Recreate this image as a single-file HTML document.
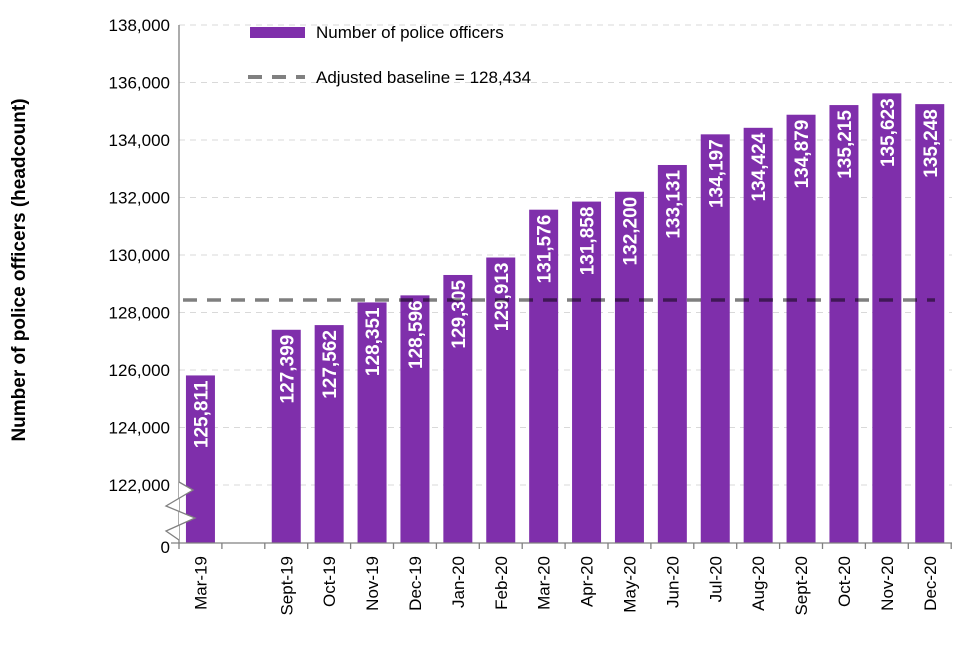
<!DOCTYPE html>
<html><head><meta charset="utf-8"><style>
body{margin:0;background:#fff;}
svg{font-family:"Liberation Sans",Arial,sans-serif;}
</style></head><body>
<svg id="chart" width="960" height="640" viewBox="0 0 960 640" xmlns="http://www.w3.org/2000/svg">
<g id="grid"></g>
<g id="bars"></g>
<g id="axes"></g>
<text transform="translate(25,270) rotate(-90)" text-anchor="middle" font-size="19" font-weight="bold" fill="#000">Number of police officers (headcount)</text>
<g>
<rect x="250" y="27" width="55" height="11" fill="#7f2fab"/>
<text x="316" y="38" font-size="17" fill="#000">Number of police officers</text>
<line x1="248" y1="77" x2="305" y2="77" stroke="#808080" stroke-width="4" stroke-dasharray="14,10"/>
<text x="316" y="83" font-size="17" fill="#000">Adjusted baseline = 128,434</text>
</g>
</svg>
<script>
const categories=["Mar-19","","Sept-19","Oct-19","Nov-19","Dec-19","Jan-20","Feb-20","Mar-20","Apr-20","May-20","Jun-20","Jul-20","Aug-20","Sept-20","Oct-20","Nov-20","Dec-20"];
const officers=[125811,null,127399,127562,128351,128596,129305,129913,131576,131858,132200,133131,134197,134424,134879,135215,135623,135248];
const baseline=128434;
const yTicks=[122000,124000,126000,128000,130000,132000,134000,136000,138000];
const NS="http://www.w3.org/2000/svg";
const x0=179,slot=42.9,yBase=543,yMin=122000,yMinPx=485,k=460/16000;
function y(v){return yMinPx-(v-yMin)*k;}
function xc(i){return x0+slot*(i+0.5);}
function mk(t,a,p){const e=document.createElementNS(NS,t);for(const n in a)e.setAttribute(n,a[n]);p.appendChild(e);return e;}
const grid=document.getElementById('grid'),bars=document.getElementById('bars'),axes=document.getElementById('axes');
yTicks.forEach(v=>{
  const l=mk('line',{x1:x0,x2:952,y1:y(v),y2:y(v),stroke:'#d9d9d9','stroke-dasharray':'6,5'},grid);
  
  
  const t=mk('text',{x:170,y:y(v)+6,'text-anchor':'end','font-size':'17',fill:'#000'},axes);
  t.textContent=v.toLocaleString('en-US');
  
  
});
const z=mk('text',{x:170,y:yBase+10,'text-anchor':'end','font-size':'17',fill:'#000'},axes);
z.textContent='0';


const bw=29;
officers.forEach((v,i)=>{
  if(v==null)return;
  const r=mk('rect',{x:xc(i)-bw/2,y:y(v),width:bw,height:yBase-y(v),fill:'#7f2fab'},bars);
  
  
  const t=mk('text',{transform:`translate(${xc(i)+7},${y(v)+5}) rotate(-90)`,'text-anchor':'end','font-size':'19','font-weight':'bold',fill:'#fff'},bars);
  t.textContent=v.toLocaleString('en-US');
  
  
});
const bl=mk('line',{x1:183,x2:935,y1:y(baseline),y2:y(baseline),stroke:'#000','stroke-opacity':'0.5','stroke-width':'3.5','stroke-dasharray':'14,10'},bars);


const ya=mk('line',{x1:x0,x2:x0,y1:25,y2:yBase,stroke:'#808080','stroke-width':'1.3'},axes);


const brk=mk('polyline',{points:`${x0},482 193,490 166,506 195,518 166,531 ${x0},540`,fill:'#fff',stroke:'#808080','stroke-width':'1.3'},axes);


const xa=mk('line',{x1:x0-8,x2:952,y1:yBase,y2:yBase,stroke:'#808080','stroke-width':'1.3'},axes);


for(let i=0;i<=categories.length;i++){
  const tk=mk('line',{x1:x0+slot*i,x2:x0+slot*i,y1:yBase,y2:yBase+6,stroke:'#808080','stroke-width':'1.3'},axes);
  
  
}
categories.forEach((c,i)=>{
  if(!c)return;
  const t=mk('text',{transform:`translate(${xc(i)+6},556) rotate(-90)`,'text-anchor':'end','font-size':'17',fill:'#000'},axes);
  t.textContent=c;
  
  
});
</script>
</body></html>
